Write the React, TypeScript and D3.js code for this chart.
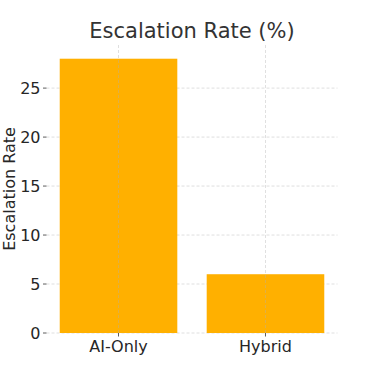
import React from "react";
import * as d3 from "d3";

const categories = ["AI-Only", "Hybrid"];
const values = [28, 6];
const yTicks = [0, 5, 10, 15, 20, 25];

export default function App() {
  const W = 375, H = 375;
  const left = 46.5, right = 337.5, top = 45, bottom = 333;
  const x = d3.scaleLinear().domain([-0.49, 1.49]).range([left, right]);
  const y = d3.scaleLinear().domain([0, 29.4]).range([bottom, top]);
  const font = "DejaVu Sans, sans-serif";
  return (
    <svg width={W} height={H} style={{ position: "absolute", left: 0, top: 0 }}>
      <rect width={W} height={H} fill="#fff" />
      {yTicks.map((t) => (
        <line key={"gy" + t} x1={left} x2={right} y1={y(t)} y2={y(t)} stroke="#b0b0b0" strokeOpacity={0.5} strokeDasharray="3,2" strokeWidth={0.8} />
      ))}
      {categories.map((c, i) => (
        <rect key={c} x={x(i - 0.4)} width={x(0.8) - x(0)} y={y(values[i])} height={y(0) - y(values[i])} fill="#FFB000" />
      ))}
      {categories.map((c, i) => (
        <line key={"gx" + c} x1={x(i)} x2={x(i)} y1={top} y2={bottom} stroke="#b0b0b0" strokeOpacity={0.5} strokeDasharray="3,2" strokeWidth={0.8} />
      ))}
      {yTicks.map((t) => (
        <g key={"ty" + t}>
          <line x1={left - 3.5} x2={left} y1={y(t)} y2={y(t)} stroke="#333" strokeWidth={0.8} />
          <text x={left - 6} y={y(t)} dy="0.36em" textAnchor="end" fontFamily={font} fontSize={16} fill="#262626">{t}</text>
        </g>
      ))}
      {categories.map((c, i) => (
        <g key={"tx" + c}>
          <line x1={x(i)} x2={x(i)} y1={bottom} y2={bottom + 3.5} stroke="#333" strokeWidth={0.8} />
          <text x={x(i)} y={bottom + 19} textAnchor="middle" fontFamily={font} fontSize={16} fill="#262626">{c}</text>
        </g>
      ))}
      <text x={(left + right) / 2} y={38} textAnchor="middle" fontFamily={font} fontSize={21} fill="#333">Escalation Rate (%)</text>
      <text transform={`translate(15,${(top + bottom) / 2}) rotate(-90)`} textAnchor="middle" fontFamily={font} fontSize={16} fill="#262626">Escalation Rate</text>
    </svg>
  );
}
